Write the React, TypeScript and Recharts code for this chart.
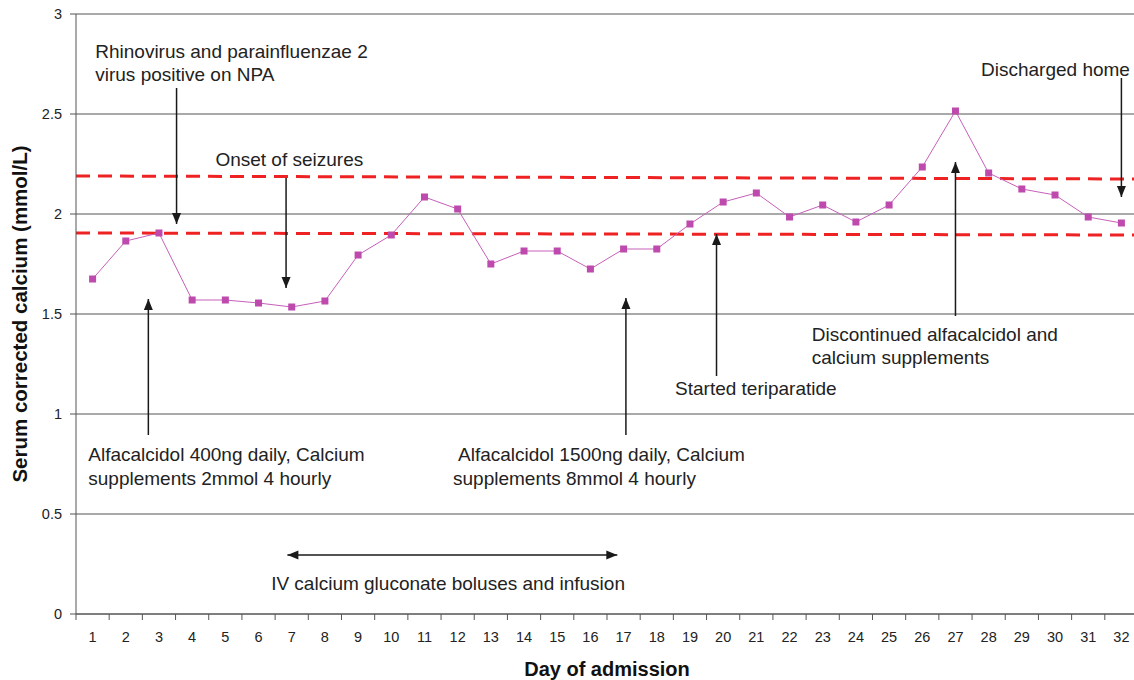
import {
  ComposedChart,
  Line,
  XAxis,
  YAxis,
  CartesianGrid,
  ReferenceLine,
  ReferenceDot,
} from "recharts";

const days = Array.from({ length: 32 }, (_, i) => i + 1);

const calcium = [
  1.675, 1.865, 1.905, 1.57, 1.57, 1.555, 1.535, 1.565, 1.795, 1.895, 2.085, 2.025,
  1.75, 1.815, 1.815, 1.725, 1.825, 1.825, 1.95, 2.06, 2.105, 1.985, 2.045, 1.96,
  2.045, 2.235, 2.515, 2.205, 2.125, 2.095, 1.985, 1.955,
];

const yTicks = [0, 0.5, 1, 1.5, 2, 2.5, 3];

// reference range (slightly sloped dashed lines)
const upperLimit = [2.19, 2.175];
const lowerLimit = [1.905, 1.895];

const rows = days.map((d, i) => ({ day: d, value: calcium[i] }));

// annotation text lines: [day, value, text]
const notes: [number, number, string][] = [
  [1.08, 2.78, "Rhinovirus and parainfluenzae 2"],
  [1.08, 2.665, "virus positive on NPA"],
  [4.7, 2.24, "Onset of seizures"],
  [27.77, 2.69, "Discharged home"],
  [0.87, 0.765, "Alfacalcidol 400ng daily, Calcium"],
  [0.87, 0.645, "supplements 2mmol 4 hourly"],
  [12.01, 0.765, "Alfacalcidol 1500ng daily, Calcium"],
  [11.86, 0.645, "supplements 8mmol 4 hourly"],
  [18.55, 1.095, "Started teriparatide"],
  [22.67, 1.365, "Discontinued alfacalcidol and"],
  [22.67, 1.25, "calcium supplements"],
  [6.38, 0.12, "IV calcium gluconate boluses and infusion"],
];

// arrows: [x1, y1, x2, y2, double-headed]
const arrows: [number, number, number, number, boolean][] = [
  [3.53, 2.63, 3.53, 1.95, false],
  [6.83, 2.18, 6.83, 1.63, false],
  [32.0, 2.68, 32.0, 2.085, false],
  [2.68, 0.895, 2.68, 1.575, false],
  [17.07, 0.895, 17.07, 1.58, false],
  [19.8, 1.19, 19.8, 1.9, false],
  [27.0, 1.49, 27.0, 2.26, false],
  [6.87, 0.295, 16.81, 0.295, true],
];

const FONT = "'Liberation Sans', Arial, sans-serif";
const BAND = 33.2;

function head(x: number, y: number, ang: number) {
  const len = 11;
  const half = 4.5;
  const bx = x - len * Math.cos(ang);
  const by = y - len * Math.sin(ang);
  const px = -Math.sin(ang) * half;
  const py = Math.cos(ang) * half;
  return `${x},${y} ${bx + px},${by + py} ${bx - px},${by - py}`;
}

function Arrow(props: any, both: boolean) {
  const { x1, y1, x2, y2 } = props;
  const ang = Math.atan2(y2 - y1, x2 - x1);
  return (
    <g>
      <line x1={x1} y1={y1} x2={x2} y2={y2} stroke="#1a1a1a" strokeWidth={1.5} />
      <polygon points={head(x2, y2, ang)} fill="#1a1a1a" />
      {both && <polygon points={head(x1, y1, ang + Math.PI)} fill="#1a1a1a" />}
    </g>
  );
}

function DayTick(props: any) {
  const { x, y, payload } = props;
  const last = payload.value === days[days.length - 1];
  return (
    <g>
      <line x1={x - BAND / 2} y1={y - 8} x2={x - BAND / 2} y2={y - 2} stroke="#555" />
      {last && <line x1={x + BAND / 2} y1={y - 8} x2={x + BAND / 2} y2={y - 2} stroke="#555" />}
      <text x={x} y={y + 20} textAnchor="middle" fontSize={14.5} fill="#222" fontFamily={FONT}>
        {payload.value}
      </text>
    </g>
  );
}

function Square(props: any) {
  const { cx, cy } = props;
  return <rect x={cx - 3.5} y={cy - 3.5} width={7} height={7} fill="#bf4aae" />;
}

export default function App() {
  return (
    <div style={{ position: "absolute", left: 0, top: 0, width: 1134, height: 680, overflow: "hidden", background: "#fff" }}>
      <ComposedChart
        width={1138}
        height={680}
        data={rows}
        margin={{ top: 14, right: 0, left: 0, bottom: 0 }}
        style={{ fontFamily: FONT }}
      >
        <CartesianGrid vertical={false} stroke="#555" strokeWidth={1} />
        <XAxis
          dataKey="day"
          type="number"
          domain={[0.5, 32.5]}
          ticks={days}
          interval={0}
          height={66}
          tickLine={false}
          axisLine={{ stroke: "#555" }}
          tick={<DayTick />}
          label={{
            value: "Day of admission",
            position: "insideBottom",
            offset: 4,
            style: { fontSize: 20, fontWeight: 700, fill: "#111", fontFamily: FONT },
          }}
        />
        <YAxis
          type="number"
          domain={[0, 3]}
          ticks={yTicks}
          width={76}
          axisLine={{ stroke: "#555" }}
          tickLine={{ stroke: "#555" }}
          tickSize={6}
          tickMargin={8}
          tick={{ fontSize: 14.5, fill: "#222", fontFamily: FONT }}
          label={{
            value: "Serum corrected calcium (mmol/L)",
            angle: -90,
            position: "insideLeft",
            offset: 20,
            style: { fontSize: 20.5, fontWeight: 700, fill: "#111", fontFamily: FONT, textAnchor: "middle" },
          }}
        />
        <ReferenceLine
          segment={[{ x: 0.5, y: upperLimit[0] }, { x: 32.5, y: upperLimit[1] }]}
          stroke="#ee2222"
          strokeWidth={3}
          strokeDasharray="14 8"
          ifOverflow="visible"
        />
        <ReferenceLine
          segment={[{ x: 0.5, y: lowerLimit[0] }, { x: 32.5, y: lowerLimit[1] }]}
          stroke="#ee2222"
          strokeWidth={3}
          strokeDasharray="14 8"
          ifOverflow="visible"
        />
        <Line
          dataKey="value"
          stroke="#c760b9"
          strokeWidth={1}
          dot={<Square />}
          activeDot={false}
          isAnimationActive={false}
        />
        {arrows.map(([x1, y1, x2, y2, both], i) => (
          <ReferenceLine
            key={`a${i}`}
            segment={[{ x: x1, y: y1 }, { x: x2, y: y2 }]}
            ifOverflow="visible"
            shape={(p: any) => Arrow(p, both)}
          />
        ))}
        {notes.map(([x, y, t], i) => (
          <ReferenceDot
            key={`n${i}`}
            x={x}
            y={y}
            r={0}
            ifOverflow="visible"
            shape={(p: any) => (
              <text x={p.cx} y={p.cy} fontSize={19} fill="#222" fontFamily={FONT}>
                {t}
              </text>
            )}
          />
        ))}
      </ComposedChart>
    </div>
  );
}
